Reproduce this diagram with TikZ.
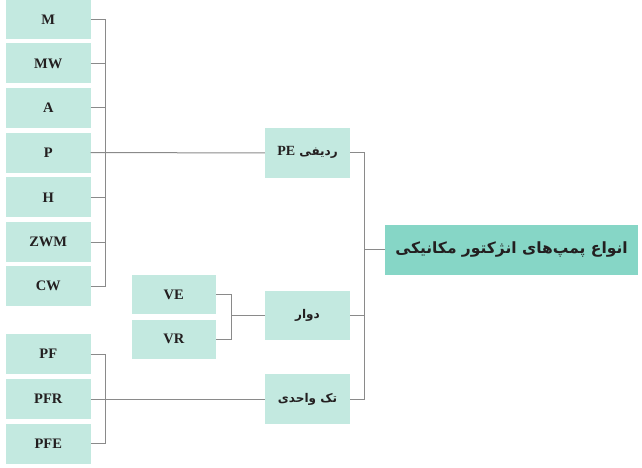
\documentclass[tikz,border=0pt]{standalone}
\usepackage{fontspec}
\setmainfont{Liberation Serif}
\newfontfamily\arabicfont[Script=Arabic]{DejaVu Sans}
\TeXXeTstate=1
\definecolor{boxlight}{HTML}{C3E9E0}
\definecolor{boxmain}{HTML}{86D6C6}
\definecolor{linegray}{HTML}{8A8A8A}
\definecolor{txt}{HTML}{231F20}
\begin{document}
\begin{tikzpicture}[x=1pt,y=-1pt,
  leaf/.style={fill=boxlight, draw=none, inner sep=0pt, minimum width=84.5pt, minimum height=40pt,
    text=txt, font=\fontsize{14.5}{17}\selectfont\bfseries},
  mid/.style={fill=boxlight, draw=none, inner sep=0pt, minimum width=85pt, minimum height=49.5pt,
    text=txt, font=\arabicfont\fontsize{12}{15}\selectfont\bfseries},
  rootbox/.style={fill=boxmain, draw=none, inner sep=0pt, minimum width=253.6pt, minimum height=49.7pt,
    text=txt, font=\arabicfont\fontsize{15.5}{18}\selectfont\bfseries},
  conn/.style={draw=linegray, line width=1pt}]
\useasboundingbox (0,0) rectangle (642,468);
% left column
\node[leaf] (M)   at (48.25,19.5)  {M};
\node[leaf] (MW)  at (48.25,63.5)  {MW};
\node[leaf] (A)   at (48.25,108)   {A};
\node[leaf] (P)   at (48.25,152.7) {P};
\node[leaf] (H)   at (48.25,197.3) {H};
\node[leaf] (ZWM) at (48.25,242)   {ZWM};
\node[leaf] (CW)  at (48.25,286.3) {CW};
% bottom group
\node[leaf] (PF)  at (48.25,354.2) {PF};
\node[leaf] (PFR) at (48.25,399.2) {PFR};
\node[leaf] (PFE) at (48.25,443.9) {PFE};
% VE / VR
\node[leaf, minimum height=39.6pt] (VE) at (173.8,294.5) {VE};
\node[leaf, minimum height=39.6pt] (VR) at (173.8,339.3) {VR};
% middle
\node[mid] (PE)    at (307.5,152.8) {\beginR ردیفی \beginL{\rmfamily\fontsize{14}{16}\selectfont\bfseries PE}\endL\endR};
\node[mid] (davar) at (307.5,315.3) {\beginR دوار\endR};
\node[mid] (tak)   at (307.5,399.2) {\beginR تک واحدی\endR};
% root
\node[rootbox] (root) at (511.5,249.8) {\beginR انواع پمپ‌های انژکتور مکانیکی\endR};
% bracket coordinates
\coordinate (b1) at (105.3,0);
\coordinate (b2) at (231,0);
\coordinate (b3) at (364.3,0);
% connectors: left column
\draw[conn] (M.east) -| (b1 |- CW.east) -- (CW.east);
\foreach \n in {MW,A,H,ZWM}{\draw[conn] (\n.east) -- (\n.east -| b1);}
\draw[conn] (P.east) -- (PE.west);
% bottom group
\draw[conn] (PF.east) -| (b1 |- PFE.east) -- (PFE.east);
\draw[conn] (PFR.east) -- (tak.west);
% VE/VR
\draw[conn] (VE.east) -| (b2 |- VR.east) -- (VR.east);
\draw[conn] (b2 |- davar.west) -- (davar.west);
% big bracket
\draw[conn] (PE.east) -| (b3 |- tak.east) -- (tak.east);
\draw[conn] (davar.east) -- (davar.east -| b3);
\draw[conn] (b3 |- root.west) -- (root.west);
\end{tikzpicture}
\end{document}
